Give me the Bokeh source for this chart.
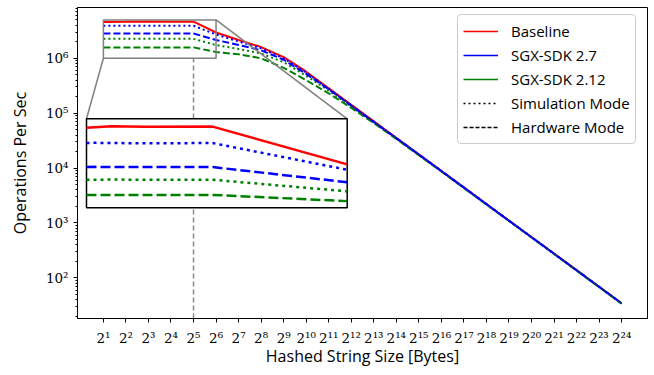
import math
from bokeh.plotting import figure
from bokeh.models import (Range1d, LinearScale, BoxAnnotation, Legend, LegendItem,
                          FixedTicker, CustomJSTickFormatter)
from bokeh.embed import file_html
from bokeh.resources import INLINE

# ---------------- data ----------------
sizes = [2, 4, 8, 16, 32, 64, 128, 256, 512, 1024, 2048, 4096, 8192, 16384, 32768,
         65536, 131072, 262144, 524288, 1048576, 2097152, 4194304, 8388608, 16777216]

baseline = [4.60e6, 4.62e6, 4.66e6, 4.64e6, 4.65e6, 2.95e6, 2.15e6, 1.60e6, 1.05e6, 5.7e5,
            2.85e5, 1.42e5, 7.1e4, 3.55e4, 1.78e4, 8.9e3, 4.45e3, 2.22e3, 1.11e3, 555,
            278, 139, 69, 34.5]
sdk27_sim = [3.91e6, 3.92e6, 3.91e6, 3.90e6, 3.91e6, 2.71e6, 2.02e6, 1.52e6, 1.00e6, 5.5e5,
             2.80e5, 1.40e5, 7.0e4, 3.52e4, 1.77e4, 8.85e3, 4.43e3, 2.21e3, 1.105e3, 553,
             277, 138, 69, 34.4]
sdk27_hw = [2.83e6, 2.84e6, 2.83e6, 2.83e6, 2.83e6, 2.15e6, 1.75e6, 1.40e6, 9.4e5, 5.2e5,
            2.72e5, 1.37e5, 6.9e4, 3.5e4, 1.76e4, 8.8e3, 4.41e3, 2.20e3, 1.10e3, 551,
            276, 138, 69, 34.3]
sdk212_sim = [2.26e6, 2.26e6, 2.27e6, 2.26e6, 2.26e6, 1.74e6, 1.48e6, 1.22e6, 8.5e5, 4.8e5,
              2.58e5, 1.33e5, 6.8e4, 3.45e4, 1.74e4, 8.75e3, 4.38e3, 2.19e3, 1.095e3, 548,
              274, 137, 68.5, 34.2]
sdk212_hw = [1.58e6, 1.58e6, 1.58e6, 1.58e6, 1.58e6, 1.30e6, 1.18e6, 1.00e6, 6.7e5, 4.0e5,
             2.30e5, 1.25e5, 6.6e4, 3.4e4, 1.72e4, 8.65e3, 4.34e3, 2.17e3, 1.09e3, 545,
             273, 136, 68, 34]

x_ticks = sizes
inset_n = 6            # points 2^1 .. 2^6 shown in the inset
inset_ylim = (1e6, 5e6)
marker_size = 32       # dashed vertical marker at 2^5

# ---------------- layout ----------------
W, H = 654, 375
BL, BR, BT, BB = 77, 7, 7, 57
FW, FH = W - BL - BR, H - BT - BB
x0, x1 = 2 ** -0.15, 2 ** 25.15
y0, y1 = 10 ** 1.26, 10 ** 6.925

# inset box in canvas pixels
IX0, IX1, IY0, IY1 = 86.0, 346.7, 118.3, 207.3

p = figure(width=W, height=H, x_axis_type="log", y_axis_type="log",
           x_range=Range1d(x0, x1), y_range=Range1d(y0, y1),
           output_backend="svg", toolbar_location=None,
           min_border_left=BL, min_border_right=BR, min_border_top=BT, min_border_bottom=BB)
p.xgrid.visible = False
p.ygrid.visible = False
p.outline_line_color = "black"
p.outline_line_alpha = 1
p.outline_line_width = 1
p.background_fill_color = "white"
p.border_fill_color = "white"

# inset coordinate system (linear) mapped onto the inset box
ix_lo, ix_hi = sizes[0], sizes[inset_n - 1]
kx = (IX1 - IX0) / (ix_hi - ix_lo)
ixs = ix_lo - (IX0 - BL) / kx
ixe = ixs + FW / kx
ky = (IY1 - IY0) / (inset_ylim[1] - inset_ylim[0])
iy_bottom_px = (BT + FH) - IY1
iys = inset_ylim[0] - iy_bottom_px / ky
iye = iys + FH / ky
p.extra_x_ranges = {"ix": Range1d(ixs, ixe)}
p.extra_y_ranges = {"iy": Range1d(iys, iye)}
p.extra_x_scales = {"ix": LinearScale()}
p.extra_y_scales = {"iy": LinearScale()}

# axes
tick_font = "DejaVu Serif"
label_font = "Open Sans"
for ax in (p.xaxis[0], p.yaxis[0]):
    ax.axis_line_color = "black"
    ax.major_tick_line_color = "black"
    ax.minor_tick_line_color = "black"
    ax.major_tick_out = 4
    ax.major_tick_in = 0
    ax.minor_tick_out = 2
    ax.minor_tick_in = 0
    ax.major_label_text_font = tick_font
    ax.major_label_text_font_size = "13.5px"
    ax.major_label_text_color = "black"
    ax.axis_label_text_font = label_font
    ax.axis_label_text_font_size = "16px"
    ax.axis_label_text_font_style = "normal"
    ax.axis_label_text_color = "black"

p.xaxis.ticker = FixedTicker(ticks=x_ticks, minor_ticks=[])
sup_js = """
const sup = {"0":"\u2070","1":"\u00b9","2":"\u00b2","3":"\u00b3","4":"\u2074",
             "5":"\u2075","6":"\u2076","7":"\u2077","8":"\u2078","9":"\u2079","-":"\u207b"};
"""
p.xaxis.formatter = CustomJSTickFormatter(code=sup_js + """
const e = Math.round(Math.log2(tick));
return "2" + String(e).split("").map(c => sup[c]).join("");
""")
p.yaxis.formatter = CustomJSTickFormatter(code=sup_js + """
const e = Math.round(Math.log10(tick));
return "10" + String(e).split("").map(c => sup[c]).join("");
""")
p.xaxis.axis_label = "Hashed String Size [Bytes]"
p.yaxis.axis_label = "Operations Per Sec"
p.xaxis.major_label_standoff = 7
p.yaxis.major_label_standoff = 5
p.xaxis.axis_label_standoff = -4
p.yaxis.axis_label_standoff = 12

RED, BLUE, GREEN = "#ff0000", "#0000ff", "#008000"
DOT, DASH = "2 3", "7 3"

# vertical dashed marker
p.line(x=[marker_size, marker_size], y=[y0, inset_ylim[0]], line_color="#8c8c8c",
       line_width=1.5, line_dash="5 3")

series = [
    (baseline, RED, "solid"),
    (sdk212_sim, GREEN, DOT),
    (sdk212_hw, GREEN, DASH),
    (sdk27_sim, BLUE, DOT),
    (sdk27_hw, BLUE, DASH),
]
for vals, col, dash in series:
    p.line(x=sizes, y=vals, line_color=col, line_width=2, line_dash=dash)

# zoom indicator rectangle
p.add_layout(BoxAnnotation(left=sizes[0], right=sizes[inset_n - 1],
                           bottom=inset_ylim[0], top=inset_ylim[1],
                           fill_alpha=0, line_color="#808080", line_alpha=1, line_width=1.5))


def px_to_main(px, py):
    fx = (px - BL) / FW
    fy = (BT + FH - py) / FH
    lx = math.log10(x0) + fx * (math.log10(x1) - math.log10(x0))
    ly = math.log10(y0) + fy * (math.log10(y1) - math.log10(y0))
    return 10 ** lx, 10 ** ly


ax0, ay0 = px_to_main(IX0, IY0)
ax1, ay1 = px_to_main(IX1, IY0)
p.line(x=[sizes[0], ax0], y=[inset_ylim[0], ay0], line_color="#808080", line_width=1.5)
p.line(x=[sizes[inset_n - 1], ax1], y=[inset_ylim[1], ay1], line_color="#808080", line_width=1.5)

# inset box
p.add_layout(BoxAnnotation(left=sizes[0], right=sizes[inset_n - 1],
                           bottom=inset_ylim[0], top=inset_ylim[1],
                           x_range_name="ix", y_range_name="iy",
                           fill_color="white", fill_alpha=1,
                           line_color="black", line_alpha=1, line_width=1.5))

IDOT, IDASH = "3 4", "10 4"
inset_series = [
    (baseline, RED, "solid"),
    (sdk27_sim, BLUE, IDOT),
    (sdk27_hw, BLUE, IDASH),
    (sdk212_sim, GREEN, IDOT),
    (sdk212_hw, GREEN, IDASH),
]
for vals, col, dash in inset_series:
    p.line(x=sizes[:inset_n], y=vals[:inset_n], line_color=col, line_width=2.5,
           line_dash=dash, x_range_name="ix", y_range_name="iy", level="overlay")

# legend proxies (drawn outside the visible range)
leg_specs = [("Baseline", RED, "solid"), ("SGX-SDK 2.7", BLUE, "solid"),
             ("SGX-SDK 2.12", GREEN, "solid"), ("Simulation Mode", "black", DOT),
             ("Hardware Mode", "black", "4 2")]
items = []
for lab, col, dash in leg_specs:
    r = p.line(x=[1, 2], y=[1, 1], line_color=col, line_width=1.5, line_dash=dash)
    items.append(LegendItem(label=lab, renderers=[r]))

legend = Legend(items=items, location=(380, 174),
                label_text_font=label_font, label_text_font_size="15px",
                label_text_color="black",
                glyph_width=35, glyph_height=22, label_height=22, spacing=2,
                padding=5, margin=0, label_standoff=13,
                border_line_color="#cccccc", border_line_width=1, border_line_alpha=1,
                background_fill_color="white", background_fill_alpha=0.9)
if "border_radius" in Legend.properties():
    legend.border_radius = 4
p.add_layout(legend)

open("out.html", "w").write(file_html(p, INLINE))
